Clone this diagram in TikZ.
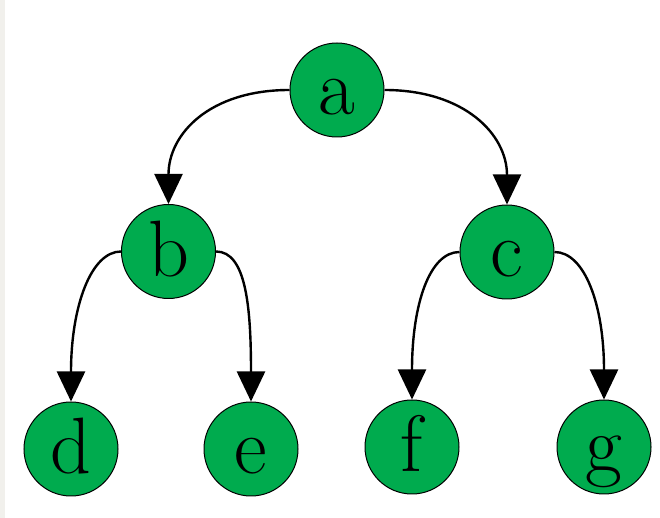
\documentclass[tikz,border=0pt]{standalone}
\usepackage{xcolor}
\usepackage{tikz}
\usetikzlibrary{arrows.meta}
\definecolor{vertexgreen}{HTML}{00AB4E}
\definecolor{stripgray}{HTML}{F1F0EC}
\tikzset{every node/.append style={font=\rmfamily}}
\tikzset{
  vertex/.style={circle,draw=black,line width=1pt,fill=vertexgreen,minimum size=94pt,inner sep=0pt,
    text height=50pt,text depth=0pt,font=\fontsize{80}{80}\selectfont},
  edge/.style={-{Triangle[length=30pt,width=28pt]},line width=2.4pt}
}

\begin{document}
\begin{tikzpicture}[x=1pt,y=1pt]
\useasboundingbox (0,0) rectangle (660,518);
\fill[stripgray] (0,0) rectangle (5,518);
\node[vertex] (a) at (337,428) {a};
\node[vertex] (b) at (168.5,266.5) {b}; \node[vertex] (c) at (507,266) {c};
\node[vertex] (d) at (71,69) {d}; \node[vertex] (e) at (251,69) {e};
\node[vertex] (f) at (412,71) {f}; \node[vertex] (g) at (604,71) {g};
\draw[edge] (a.west) to[out=180,in=90,out distance=80pt,in distance=70pt] (b.north);
\draw[edge] (a.east) to[out=0,in=90,out distance=80pt,in distance=70pt] (c.north);
\draw[edge] (b.west) to[out=180,in=90,out distance=30pt,in distance=95pt] (d.north);
\draw[edge] (b.east) to[out=0,in=90,out distance=30pt,in distance=95pt] (e.north);
\draw[edge] (c.west) to[out=180,in=90,out distance=30pt,in distance=95pt] (f.north);
\draw[edge] (c.east) to[out=0,in=90,out distance=30pt,in distance=95pt] (g.north);
\end{tikzpicture}
\end{document}
